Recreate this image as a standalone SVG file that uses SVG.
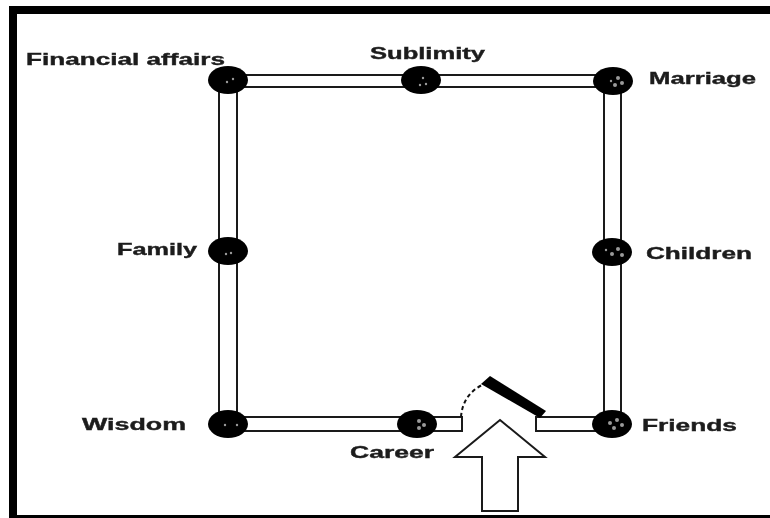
<svg xmlns="http://www.w3.org/2000/svg" width="770" height="518" viewBox="0 0 770 518">
<defs>
<filter id="soft" x="-10%" y="-30%" width="120%" height="160%"><feGaussianBlur stdDeviation="0.6"/></filter>
</defs>
<style>
.w{fill:none;stroke:#1a1a1a;stroke-width:2}
.n{fill:#060606;filter:url(#soft)}
.h{fill:#9a9a9a}
text{font-family:"Liberation Sans",Arial,sans-serif;font-weight:bold;font-size:17px;fill:#1c1c1c;stroke:#1c1c1c;stroke-width:.4px;filter:url(#soft)}
</style>
<rect width="770" height="518" fill="#fff"/>
<path d="M770 10H13V515" fill="none" stroke="#000" stroke-width="8"/>
<rect x="9" y="515" width="761" height="3" fill="#000"/>
<g id="connectors">
<path class="w" d="M228 75H613M228 87H613"/>
<path class="w" d="M219 80V424M237 80V424"/>
<path class="w" d="M604 80V424M621 80V424"/>
<path class="w" d="M228 417H462V431H228"/>
<path class="w" d="M612 417H536V431H612"/>
<path d="M461 417C462 402 470 391 482 385" fill="none" stroke="#111" stroke-width="2" stroke-dasharray="4 3"/>
<path d="M481 384L490 376L546 411L540 418Z" fill="#000"/>
<path d="M500 420L545 457H518V511H482V457H455Z" fill="#fff" stroke="#1a1a1a" stroke-width="2"/>
</g>
<g id="financial"><ellipse class="n" cx="228" cy="80" rx="20" ry="14"/><circle class="h" cx="227" cy="82" r="1.2"/><circle class="h" cx="233" cy="79" r="1.2"/><text x="26" y="65" textLength="199" lengthAdjust="spacingAndGlyphs">Financial affairs</text></g>
<g id="sublimity"><ellipse class="n" cx="421" cy="80" rx="20" ry="14"/><circle class="h" cx="423" cy="78" r="1.2"/><circle class="h" cx="426" cy="84" r="1.2"/><circle class="h" cx="420" cy="85" r="1.2"/><text x="370" y="59" textLength="115" lengthAdjust="spacingAndGlyphs">Sublimity</text></g>
<g id="marriage"><ellipse class="n" cx="613" cy="81" rx="20" ry="14"/><circle class="h" cx="618" cy="78" r="2"/><circle class="h" cx="622" cy="83" r="2"/><circle class="h" cx="615" cy="85" r="2"/><circle class="h" cx="611" cy="81" r="1.2"/><text x="649" y="84" textLength="107" lengthAdjust="spacingAndGlyphs">Marriage</text></g>
<g id="family"><ellipse class="n" cx="228" cy="251" rx="20" ry="14"/><circle class="h" cx="226" cy="254" r="1.2"/><circle class="h" cx="231" cy="253" r="1.2"/><text x="117" y="255" textLength="80" lengthAdjust="spacingAndGlyphs">Family</text></g>
<g id="children"><ellipse class="n" cx="612" cy="252" rx="20" ry="14"/><circle class="h" cx="606" cy="250" r="1.2"/><circle class="h" cx="612" cy="254" r="2"/><circle class="h" cx="618" cy="249" r="2"/><circle class="h" cx="622" cy="255" r="2"/><text x="646" y="259" textLength="106" lengthAdjust="spacingAndGlyphs">Children</text></g>
<g id="wisdom"><ellipse class="n" cx="228" cy="424" rx="20" ry="14"/><circle class="h" cx="225" cy="425" r="1.2"/><circle class="h" cx="237" cy="425" r="1.2"/><text x="82" y="430" textLength="104" lengthAdjust="spacingAndGlyphs">Wisdom</text></g>
<g id="career"><ellipse class="n" cx="417" cy="424" rx="20" ry="14"/><circle class="h" cx="419" cy="421" r="2"/><circle class="h" cx="424" cy="425" r="2"/><circle class="h" cx="419" cy="428" r="2"/><text x="350" y="458" textLength="84" lengthAdjust="spacingAndGlyphs">Career</text></g>
<g id="friends"><ellipse class="n" cx="612" cy="424" rx="20" ry="14"/><circle class="h" cx="610" cy="423" r="2"/><circle class="h" cx="617" cy="420" r="2"/><circle class="h" cx="622" cy="425" r="2"/><circle class="h" cx="614" cy="428" r="2"/><text x="642" y="431" textLength="95" lengthAdjust="spacingAndGlyphs">Friends</text></g>
</svg>
